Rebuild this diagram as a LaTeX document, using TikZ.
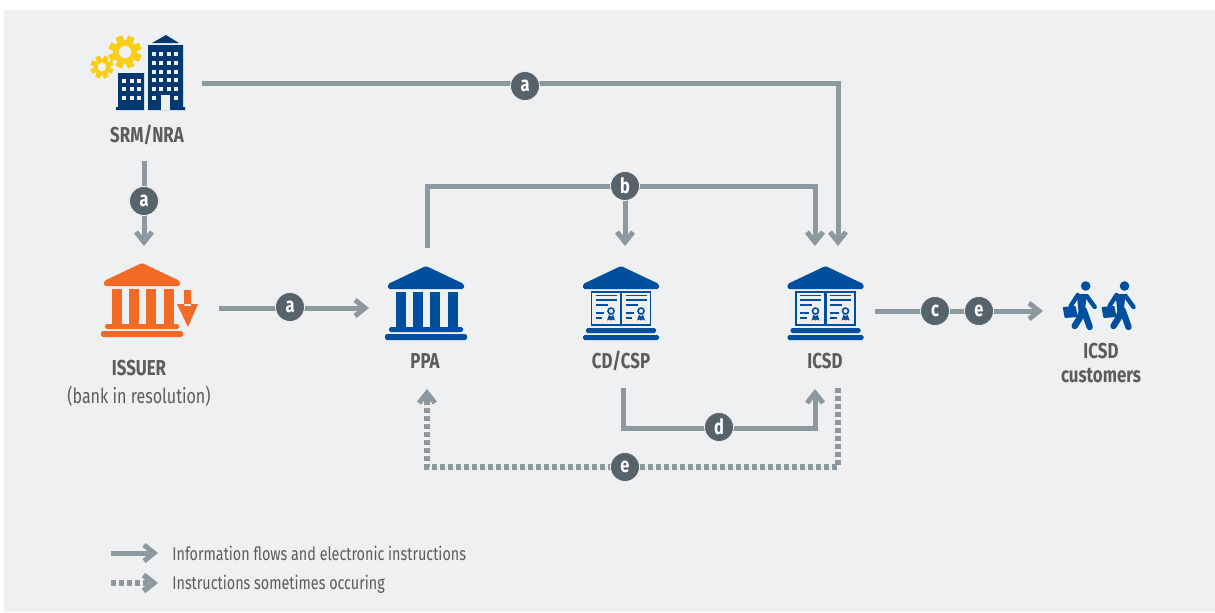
\documentclass[tikz,border=0pt]{standalone}
\usepackage{fontspec}
\setmainfont[FakeStretch=0.78]{Fira Sans}
\usetikzlibrary{arrows.meta}
\definecolor{panelgrey}{HTML}{EEF0F2}
\definecolor{linegrey}{HTML}{8C999F}
\definecolor{badgegrey}{HTML}{56636A}
\definecolor{textgrey}{HTML}{5A5C5E}
\definecolor{bankblue}{HTML}{004F9F}
\definecolor{townblue}{HTML}{00386F}
\definecolor{issuerorange}{HTML}{F26A25}
\definecolor{gearyellow}{HTML}{FBCE14}
\tikzset{
  flow/.style={draw=linegrey,line width=2.5pt,-{Straight Barb[length=5pt,width=8pt]}},
  dotflow/.style={draw=linegrey,line width=2.8pt,dash pattern=on 2.3pt off 1.7pt},
  badge/.style={circle,fill=badgegrey,draw=panelgrey,line width=.4pt,inner sep=0pt,minimum size=14.5pt,
    text=white,font=\fontsize{10.5pt}{10.5pt}\selectfont\bfseries},
  lbl/.style={text=textgrey,align=center,font=\fontsize{10.8pt}{12pt}\selectfont\bfseries,inner sep=0pt},
  keytext/.style={text=textgrey,anchor=west,font=\fontsize{9.2pt}{10pt}\selectfont,inner sep=0pt},
}
% bank parts, centred on the pic origin
\tikzset{
  bankroof/.pic={
    \fill[rounded corners=.8pt] (0,-40) -- (38,-22) -- (38,-17) -- (-38,-17) -- (-38,-22) -- cycle;
  },
  bankpillars/.pic={
    \foreach \px in {-25.5,-8.5,9,26.5}
      \fill (\px-5,-14) rectangle (\px+5,22);
    \fill[rounded corners=.8pt] (-37,21) rectangle (37,26);
    \fill[rounded corners=.8pt] (-41,28) rectangle (41,34);
  },
  certsheet/.pic={
    \draw[line width=.6pt,fill=panelgrey] (-14.5,-16.5) rectangle (14.5,16.5);
    \draw[line width=.7pt] (-10.5,-13) -- (10.5,-13) (-10.5,-8.5) -- (10.5,-8.5) (-10.5,-3.5) -- (1.5,-3.5)
      (-10.5,4.5) -- (-2,4.5) (-10.5,9.5) -- (-4,9.5);
    \draw[line width=.8pt] (5,2.5) circle (1.5pt);
    \fill (1,12) -- (3,6) -- (5,8) -- (7,6) -- (9,12) -- (6.5,11) -- (5,12) -- (3.5,11) -- cycle;
  },
  certbank/.pic={
    \pic {bankroof};
    \pic at (-15,2.5) {certsheet};
    \pic at (15,2.5) {certsheet};
    \fill[rounded corners=.8pt] (-35,22) rectangle (35,27);
    \fill[rounded corners=.8pt] (-38,29) rectangle (38,34);
  },
  walker/.pic={
    \fill (0,0) circle (2.4pt);
    \fill[rounded corners=1pt] (-9,8) -- (1,8) -- (-1,27) -- (-7,27) -- cycle;
    \draw[line width=3.2pt,line cap=round,line join=round] (-4,26) -- (-6,32) -- (-11,40)
      (-2,24) -- (4,41);
    \draw[line width=2.2pt,line cap=round,line join=round] (-8,9) -- (-15,20) (1,10) -- (9,21);
    \fill[rounded corners=.4pt] (-23,21) -- (-10,20) -- (-8,31) -- (-21,32) -- cycle;
  },
  gearwheel/.pic={
    \fill[even odd rule] (0,0) circle (6pt) (0,0) circle (3.2pt);
    \foreach \ga in {0,45,...,315}
      \fill[rotate=\ga+22] (-3.5,10) rectangle (3.5,16.5);
  },
}
\begin{document}
\begin{tikzpicture}[x=0.5pt,y=-0.5pt]
\useasboundingbox (0,0) rectangle (1215,612);
\fill[panelgrey] (4,10) rectangle (1215,612);

% icons
\begin{scope}[gearyellow]
\pic at (125,52) {gearwheel};
\pic[scale=.7,transform shape] at (102,67) {gearwheel};
\end{scope}
\begin{scope}[townblue]
\fill (118,73) rectangle (144,107) (148,45) rectangle (183,107);
\fill (116,107) rectangle (144,110) (148,107) rectangle (185,110);
\fill (152,43) -- (166,35) -- (179,43) -- cycle;
\end{scope}
\foreach \wx in {124,132,139}
  \foreach \wy in {81,89,98}
    \fill[panelgrey] (\wx-2,\wy-2) rectangle (\wx+2,\wy+2);
\foreach \wx in {154,161,169,176}
  \foreach \wy in {54,63,72,80,89}
    \fill[panelgrey] (\wx-2,\wy-2) rectangle (\wx+2,\wy+2);
\fill[panelgrey] (161,95) rectangle (170,110);
\foreach \wx in {154,176}
  \fill[panelgrey] (\wx-2,96) rectangle (\wx+2,100);

\begin{scope}[issuerorange]
\pic at (142,303) {bankroof};
\pic at (142,303) {bankpillars};
\fill (184,290) rectangle (191,306) (177,304) -- (198,304) -- (188,327) -- cycle;
\end{scope}
\begin{scope}[bankblue]
\pic at (426,306) {bankroof};
\pic at (426,306) {bankpillars};
\pic at (621,306) {certbank};
\pic at (825.5,306) {certbank};
\pic at (1085.7,286) {walker};
\pic at (1124.5,286) {walker};
\end{scope}

% labels
\node[lbl] (srmnra) at (147,135) {SRM/NRA};
\node[lbl] (issuer) at (139,368) {ISSUER};
\node[lbl,font=\fontsize{10.3pt}{12pt}\selectfont] (issuernote) at (139,396) {(bank in resolution)};
\node[lbl] (ppa) at (425,361) {PPA};
\node[lbl] (cdcsp) at (621,361) {CD/CSP};
\node[lbl] (icsd) at (825,361) {ICSD};
\node[lbl] (customers) at (1101,363) {ICSD\\customers};

% end points of the connectors
\coordinate (srmright) at (202,83);
\coordinate (srmdown) at (144,161);
\coordinate (issuerin) at (144,246);
\coordinate (issuerout) at (219,308);
\coordinate (ppain) at (369,308);
\coordinate (ppaup) at (427,248);
\coordinate (ppabelow) at (427,389);
\coordinate (ppaturn) at (427,400);
\coordinate (cdup) at (625,246);
\coordinate (cdbelow) at (623,388);
\coordinate (icsdleft) at (815,246);
\coordinate (icsdright) at (838,246);
\coordinate (icsdout) at (875,311);
\coordinate (custin) at (1043,311);
\coordinate (icsdbelowl) at (815,389);
\coordinate (icsdbelowr) at (838,388);
\coordinate (splitb) at (625,186);
\coordinate (splitd) at (623,428);
\coordinate (splite) at (625,467);

% connectors
\draw[flow] (srmright) -| (icsdright);
\draw[flow] (srmdown) -- (issuerin);
\draw[flow] (issuerout) -- (ppain);
\draw[flow] (ppaup) |- (splitb) -| (icsdleft);
\draw[flow] (splitb) -- (cdup);
\draw[flow] (icsdout) -- (custin);
\draw[flow] (cdbelow) -- (splitd) -| (icsdbelowl);
\draw[dotflow] (icsdbelowr) |- (splite) -| (ppaturn);
\draw[flow] (ppaturn) -- (ppabelow);

% badges
\node[badge] (ba1) at (525,86) {a};
\node[badge] (ba2) at (144,201) {a};
\node[badge] (ba3) at (290,307) {a};
\node[badge] (bb) at (625,186) {b};
\node[badge] (bc) at (935,311) {c};
\node[badge] (be1) at (979,311) {e};
\node[badge] (bd) at (719,427) {d};
\node[badge] (be2) at (625,467) {e};

% key
\coordinate (keya) at (111,553);
\coordinate (keyb) at (158,553);
\coordinate (keyc) at (111,583);
\coordinate (keyd) at (158,583);
\draw[flow] (keya) -- (keyb);
\draw[dotflow,-{Straight Barb[length=5pt,width=8pt]}] (keyc) -- (keyd);
\node[keytext] (keytop) at (172,553.5) {Information flows and electronic instructions};
\node[keytext] (keybot) at (172,584.5) {Instructions sometimes occuring};
\end{tikzpicture}
\end{document}
